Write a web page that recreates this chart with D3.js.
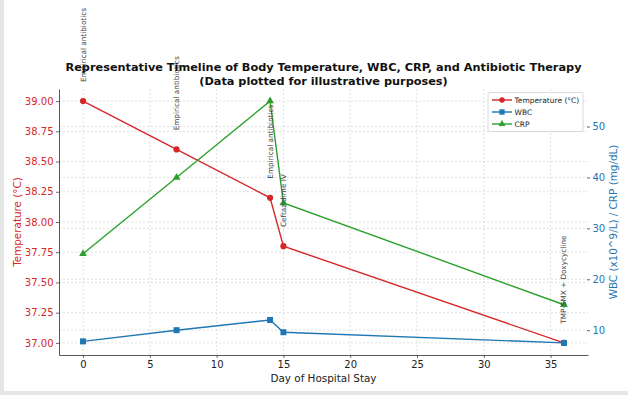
<!DOCTYPE html>
<html>
<head>
<meta charset="utf-8">
<script src="https://cdn.jsdelivr.net/npm/d3@7"></script>
<style>
  body { margin: 0; background: #fff; }
  svg { display: block; font-family: "DejaVu Sans", sans-serif; }
</style>
</head>
<body>
<script>
// values
const days = [0, 7, 14, 15, 36];
const temperature = [39.0, 38.6, 38.2, 37.8, 37.0];
const wbc = [7.8, 10.0, 12.0, 9.6, 7.5];
const crp = [25, 40, 55, 35, 15];
const therapy = ['Empirical antibiotics', 'Empirical antibiotics', 'Empirical antibiotics', 'Ceftazidime IV', 'TMP-SMX + Doxycycline'];
const xTicks = [0, 5, 10, 15, 20, 25, 30, 35];
const tempTicks = [37.0, 37.25, 37.5, 37.75, 38.0, 38.25, 38.5, 38.75, 39.0];
const rightTicks = [10, 20, 30, 40, 50];
const seriesNames = ['Temperature (°C)', 'WBC', 'CRP'];

const width = 628, height = 395;
const red = '#d62728', blue = '#1f77b4', green = '#2ca02c';
const plot = {left: 59, right: 588, top: 89, bottom: 355};

let svg = d3.select('body').append('svg')
  .attr('width', width)
  .attr('height', height);

// grey frame strips of the screenshot
svg.append('rect').attr('x', 0).attr('y', 0).attr('width', 4).attr('height', height).attr('fill', '#e6e6e6');
svg.append('rect').attr('x', 0).attr('y', 391).attr('width', width).attr('height', 4).attr('fill', '#e6e6e6');

// matplotlib-like 5% margins
function padded(vals) {
  let lo = d3.min(vals), hi = d3.max(vals), m = (hi - lo) * 0.05;
  return [lo - m, hi + m];
}

let x = d3.scaleLinear().domain(padded(days)).range([plot.left, plot.right]);
let yL = d3.scaleLinear().domain(padded(temperature)).range([plot.bottom, plot.top]);
let yR = d3.scaleLinear().domain(padded(wbc.concat(crp))).range([plot.bottom, plot.top]);

// grid
let grid = svg.append('g').attr('stroke', '#d2d2d2').attr('stroke-width', 0.7).attr('stroke-dasharray', '2,2');
grid.selectAll('.gx').data(xTicks).enter().append('line')
  .attr('x1', d => x(d)).attr('x2', d => x(d))
  .attr('y1', plot.top).attr('y2', plot.bottom);
grid.selectAll('.gl').data(tempTicks).enter().append('line')
  .attr('x1', plot.left).attr('x2', plot.right)
  .attr('y1', d => yL(d)).attr('y2', d => yL(d));
grid.selectAll('.gr').data(rightTicks).enter().append('line')
  .attr('x1', plot.left).attr('x2', plot.right)
  .attr('y1', d => yR(d)).attr('y2', d => yR(d));

// axes
let xAxis = svg.append('g')
  .attr('transform', 'translate(0,' + plot.bottom + ')')
  .call(d3.axisBottom(x).tickValues(xTicks).tickSize(3).tickPadding(3).tickSizeOuter(0));
xAxis.selectAll('text').attr('font-size', 10).attr('fill', '#222').attr('font-family', 'DejaVu Sans');

let leftAxis = svg.append('g')
  .attr('transform', 'translate(' + plot.left + ',0)')
  .call(d3.axisLeft(yL).tickValues(tempTicks).tickFormat(d3.format('.2f')).tickSize(3).tickPadding(2.5).tickSizeOuter(0));
leftAxis.selectAll('text').attr('font-size', 10).attr('fill', red).attr('font-family', 'DejaVu Sans');

let rightAxis = svg.append('g')
  .attr('transform', 'translate(' + (plot.right - 1) + ',0)')
  .call(d3.axisRight(yR).tickValues(rightTicks).tickSize(3).tickPadding(2.5));
rightAxis.select('.domain').remove();
rightAxis.selectAll('text').attr('font-size', 10).attr('fill', blue).attr('font-family', 'DejaVu Sans');

[xAxis, leftAxis, rightAxis].forEach(a => {
  a.selectAll('.domain').attr('stroke', '#444').attr('stroke-width', 0.9);
  a.selectAll('.tick line').attr('stroke', '#444').attr('stroke-width', 0.8);
});

// axis labels
svg.append('text')
  .attr('x', (plot.left + plot.right) / 2).attr('y', 382)
  .attr('text-anchor', 'middle').attr('font-size', 10.4).attr('fill', '#222')
  .text('Day of Hospital Stay');

svg.append('text')
  .attr('transform', 'translate(21,' + (plot.top + plot.bottom) / 2 + ')rotate(-90)')
  .attr('text-anchor', 'middle').attr('font-size', 10.4).attr('fill', red)
  .text('Temperature (°C)');

svg.append('text')
  .attr('transform', 'translate(617,' + (plot.top + plot.bottom) / 2 + ')rotate(-90)')
  .attr('text-anchor', 'middle').attr('font-size', 10.4).attr('fill', blue)
  .text('WBC (x10^9/L) / CRP (mg/dL)');

// series
let series = [
  {name: seriesNames[0], values: temperature, y: yL, color: red, shape: d3.symbolCircle, size: 30},
  {name: seriesNames[1], values: wbc, y: yR, color: blue, shape: d3.symbolSquare, size: 36},
  {name: seriesNames[2], values: crp, y: yR, color: green, shape: d3.symbolTriangle, size: 26}
];

series.forEach(s => {
  let line = d3.line().x((d, i) => x(days[i])).y(d => s.y(d));
  svg.append('path')
    .datum(s.values)
    .attr('d', line)
    .attr('fill', 'none')
    .attr('stroke', s.color)
    .attr('stroke-width', 1.4);
  svg.selectAll(null).data(s.values).enter().append('path')
    .attr('d', d3.symbol().type(s.shape).size(s.size))
    .attr('transform', (d, i) => 'translate(' + x(days[i]) + ',' + s.y(d) + ')')
    .attr('fill', s.color);
});

// therapy annotations, placed just above the temperature point
svg.selectAll('.note').data(therapy).enter().append('text')
  .attr('transform', (d, i) => 'translate(' + x(days[i]) + ',' + (yL(temperature[i] + 0.1) - 7) + ')rotate(-90)')
  .attr('dominant-baseline', 'central')
  .attr('font-size', 7.3)
  .attr('fill', '#444')
  .text(d => d);

// title
let title = svg.append('g').attr('font-weight', 'bold').attr('fill', '#111').attr('text-anchor', 'middle');
title.append('text').attr('x', (plot.left + plot.right) / 2).attr('y', 71).attr('font-size', 11.3)
  .text('Representative Timeline of Body Temperature, WBC, CRP, and Antibiotic Therapy');
title.append('text').attr('x', (plot.left + plot.right) / 2).attr('y', 84.5).attr('font-size', 11.3)
  .text('(Data plotted for illustrative purposes)');

// legend
let legend = svg.append('g').attr('transform', 'translate(488,92.5)');
legend.append('rect')
  .attr('width', 95).attr('height', 39).attr('rx', 2)
  .attr('fill', '#fff').attr('fill-opacity', 0.85)
  .attr('stroke', '#d0d0d0').attr('stroke-width', 0.8);
let item = legend.selectAll('.item').data(series).enter().append('g')
  .attr('transform', (d, i) => 'translate(0,' + (7.5 + i * 12) + ')');
item.append('line').attr('x1', 4).attr('x2', 24).attr('stroke', d => d.color).attr('stroke-width', 1.4);
item.append('path')
  .attr('d', d => d3.symbol().type(d.shape).size(d.size * 0.8)())
  .attr('transform', 'translate(14,0)')
  .attr('fill', d => d.color);
item.append('text').attr('x', 26.5).attr('dy', '0.35em').attr('font-size', 7.5).attr('fill', '#222')
  .text(d => d.name);
</script>
</body>
</html>
